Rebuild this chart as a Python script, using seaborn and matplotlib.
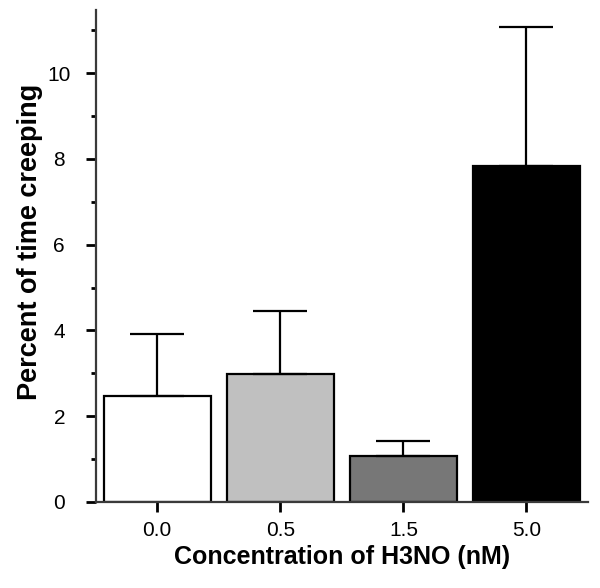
import matplotlib
matplotlib.use("Agg")
import matplotlib.pyplot as plt
import seaborn as sns
import pandas as pd
import numpy as np
from matplotlib.ticker import MultipleLocator

concentrations = ["0.0", "0.5", "1.5", "5.0"]
means = [2.47, 2.98, 1.07, 7.83]
sem_upper = [1.44, 1.47, 0.35, 3.24]
colors = ["#ffffff", "#c0c0c0", "#777777", "#000000"]

sns.set_style("ticks")
plt.rcParams['font.family'] = ['Liberation Sans', 'DejaVu Sans']
plt.rcParams['text.color'] = 'black'
plt.rcParams['axes.labelcolor'] = 'black'
plt.rcParams['xtick.color'] = 'black'
plt.rcParams['ytick.color'] = 'black'

df = pd.DataFrame({"conc": concentrations, "mean": means})

fig = plt.figure(figsize=(6, 5.88), dpi=100)
ax = fig.add_axes([0.1595, 0.1463, 0.8205, 0.8367])

sns.barplot(data=df, x="conc", y="mean", hue="conc", palette=colors,
            order=concentrations, hue_order=concentrations, width=0.87,
            edgecolor="black", linewidth=1.6, legend=False, ax=ax, errorbar=None)

xpos = np.arange(len(concentrations))
ax.errorbar(xpos, means, yerr=[np.zeros(len(means)), sem_upper], fmt="none",
            ecolor="black", elinewidth=1.6, capsize=19.3, capthick=1.6, zorder=1)

ax.set_xlim(-0.5, 3.5)
ax.set_ylim(0, 11.47)
ax.yaxis.set_major_locator(MultipleLocator(2))
ax.yaxis.set_minor_locator(MultipleLocator(1))
ax.tick_params(axis="y", which="major", length=7.2, width=2, labelsize=15, pad=19)
ax.tick_params(axis="y", which="minor", length=3.5, width=2)
ax.tick_params(axis="x", which="major", length=7, width=2, labelsize=15, pad=7)
for lbl in ax.get_yticklabels():
    lbl.set_horizontalalignment("center")

for s in ["top", "right"]:
    ax.spines[s].set_visible(False)
for s in ["left", "bottom"]:
    ax.spines[s].set_color("#3a3a3a")
    ax.spines[s].set_linewidth(1.6)

ax.set_xlabel("Concentration of H3NO (nM)", fontsize=18, fontweight="bold", labelpad=3)
ax.set_ylabel("Percent of time creeping", fontsize=19.5, fontweight="bold")
ax.yaxis.set_label_coords(-0.107, 0.528)

fig.savefig("out.png", dpi=100)
